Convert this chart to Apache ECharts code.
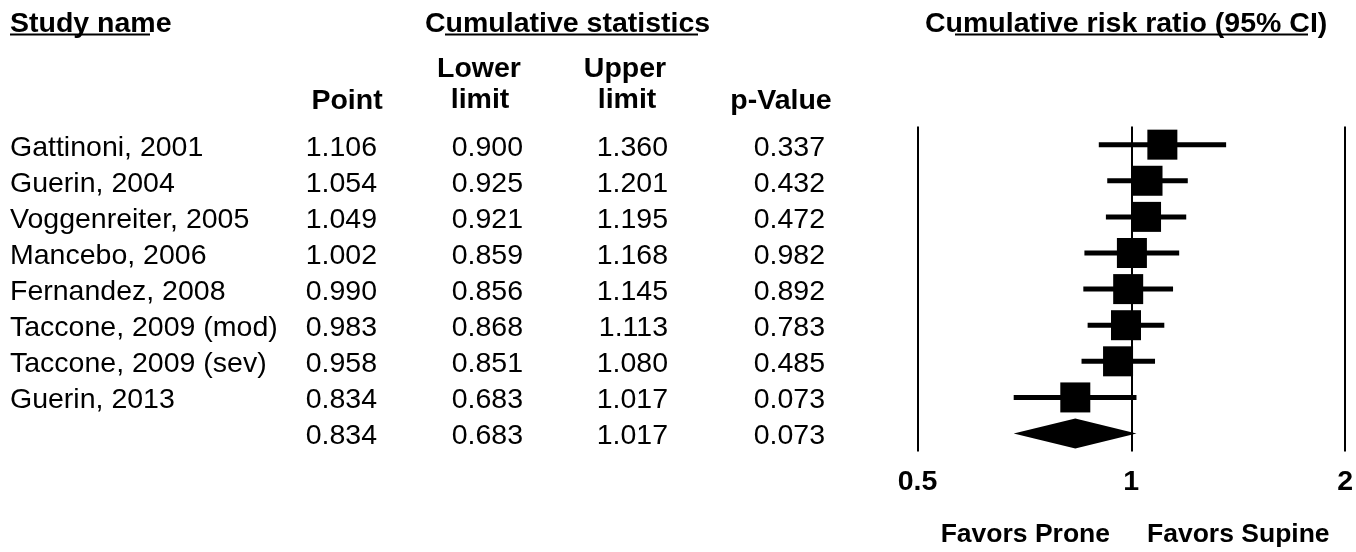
<!DOCTYPE html>
<html>
<head>
<meta charset="utf-8">
<script src="https://cdn.jsdelivr.net/npm/echarts@6/dist/echarts.min.js"></script>
<style>
html,body{margin:0;padding:0;background:#fff;}
#chart{width:1356px;height:552px;}
</style>
</head>
<body>
<div id="chart"></div>
<script>
// ---- data ----
const studies = ['Gattinoni, 2001', 'Guerin, 2004', 'Voggenreiter, 2005', 'Mancebo, 2006', 'Fernandez, 2008', 'Taccone, 2009 (mod)', 'Taccone, 2009 (sev)', 'Guerin, 2013', ''];
const pointEst = [1.106, 1.054, 1.049, 1.002, 0.990, 0.983, 0.958, 0.834, 0.834];
const lowerLimit = [0.900, 0.925, 0.921, 0.859, 0.856, 0.868, 0.851, 0.683, 0.683];
const upperLimit = [1.360, 1.201, 1.195, 1.168, 1.145, 1.113, 1.080, 1.017, 1.017];
const pValues = [0.337, 0.432, 0.472, 0.982, 0.892, 0.783, 0.485, 0.073, 0.073];
const isSummary = [0, 0, 0, 0, 0, 0, 0, 0, 1];
const xTicks = [0.5, 1, 2];
const xTickLabels = ['0.5', '1', '2'];

// ---- styles ----
const FONT = "'Liberation Sans', Arial, Helvetica, sans-serif";
const FS = 28.5;
const COL = { name: 10, point: 377, lower: 523, upper: 668, p: 825 };

const chart = echarts.init(document.getElementById('chart'), null, { renderer: 'canvas' });

const rowIdx = studies.map((s, i) => i);
const tableData = rowIdx.map(i => [1, i]);
const forestData = rowIdx.map(i => [lowerLimit[i], upperLimit[i], pointEst[i], i, isSummary[i]]);

function txt(x, y, text, align, bold, fs) {
  return {
    type: 'text',
    style: {
      x: x, y: y, text: text,
      align: align, verticalAlign: 'middle',
      font: (bold ? 'bold ' : '') + (fs || FS) + 'px ' + FONT,
      fill: '#000'
    }
  };
}

const option = {
  backgroundColor: '#fff',
  animation: false,
  grid: { left: 917.5, width: 428, top: 126.6, height: 325, containLabel: false },
  xAxis: {
    type: 'log', logBase: 2, min: 0.5, max: 2,
    axisLine: { show: false }, axisTick: { show: false },
    splitLine: { show: true, lineStyle: { color: '#000', width: 2 } },
    axisLabel: {
      margin: 16, color: '#000', fontWeight: 'bold', fontSize: FS, fontFamily: FONT,
      formatter: function (v) {
        for (let k = 0; k < xTicks.length; k++) if (Math.abs(v - xTicks[k]) < 1e-6) return xTickLabels[k];
        return '';
      }
    }
  },
  yAxis: {
    type: 'category', inverse: true, data: studies.map((s, i) => 'r' + i),
    show: false
  },
  series: [
    {
      type: 'custom', name: 'table', clip: false, silent: true,
      data: tableData,
      renderItem: function (params, api) {
        const i = api.value(1);
        const y = api.coord([1, i])[1] + 3;
        return {
          type: 'group',
          children: [
            txt(COL.name, y, studies[i], 'left', false),
            txt(COL.point, y, pointEst[i].toFixed(3), 'right', false),
            txt(COL.lower, y, lowerLimit[i].toFixed(3), 'right', false),
            txt(COL.upper, y, upperLimit[i].toFixed(3), 'right', false),
            txt(COL.p, y, pValues[i].toFixed(3), 'right', false)
          ]
        };
      }
    },
    {
      type: 'custom', name: 'forest', clip: false, silent: true,
      data: forestData,
      renderItem: function (params, api) {
        const i = api.value(3);
        const lo = api.coord([api.value(0), i]);
        const hi = api.coord([api.value(1), i]);
        const pt = api.coord([api.value(2), i]);
        const y = pt[1];
        const h = 30;
        if (api.value(4) === 1) {
          return {
            type: 'polygon',
            shape: { points: [[lo[0], y], [pt[0], y - h / 2], [hi[0], y], [pt[0], y + h / 2]] },
            style: { fill: '#000' }
          };
        }
        return {
          type: 'group',
          children: [
            { type: 'line', shape: { x1: lo[0], y1: y, x2: hi[0], y2: y }, style: { stroke: '#000', lineWidth: 5 } },
            { type: 'rect', shape: { x: pt[0] - h / 2, y: y - h / 2, width: h, height: h }, style: { fill: '#000' } }
          ]
        };
      }
    }
  ],
  graphic: [
    txt(10, 24, 'Study name', 'left', true),
    txt(425, 24, 'Cumulative statistics', 'left', true),
    txt(925, 24, 'Cumulative risk ratio (95% CI)', 'left', true),
    { type: 'line', shape: { x1: 10, y1: 34.5, x2: 150, y2: 34.5 }, style: { stroke: '#000', lineWidth: 2 } },
    { type: 'line', shape: { x1: 445, y1: 34.5, x2: 698, y2: 34.5 }, style: { stroke: '#000', lineWidth: 2 } },
    { type: 'line', shape: { x1: 955, y1: 34.5, x2: 1308, y2: 34.5 }, style: { stroke: '#000', lineWidth: 2 } },
    txt(347, 101, 'Point', 'center', true),
    txt(479, 69, 'Lower', 'center', true),
    txt(480, 100, 'limit', 'center', true),
    txt(625, 69, 'Upper', 'center', true),
    txt(627, 100, 'limit', 'center', true),
    txt(781, 101, 'p-Value', 'center', true),
    txt(1110, 535, 'Favors Prone', 'right', true, 26.5),
    txt(1147, 535, 'Favors Supine', 'left', true, 26.5)
  ]
};

chart.setOption(option);
</script>
</body>
</html>
